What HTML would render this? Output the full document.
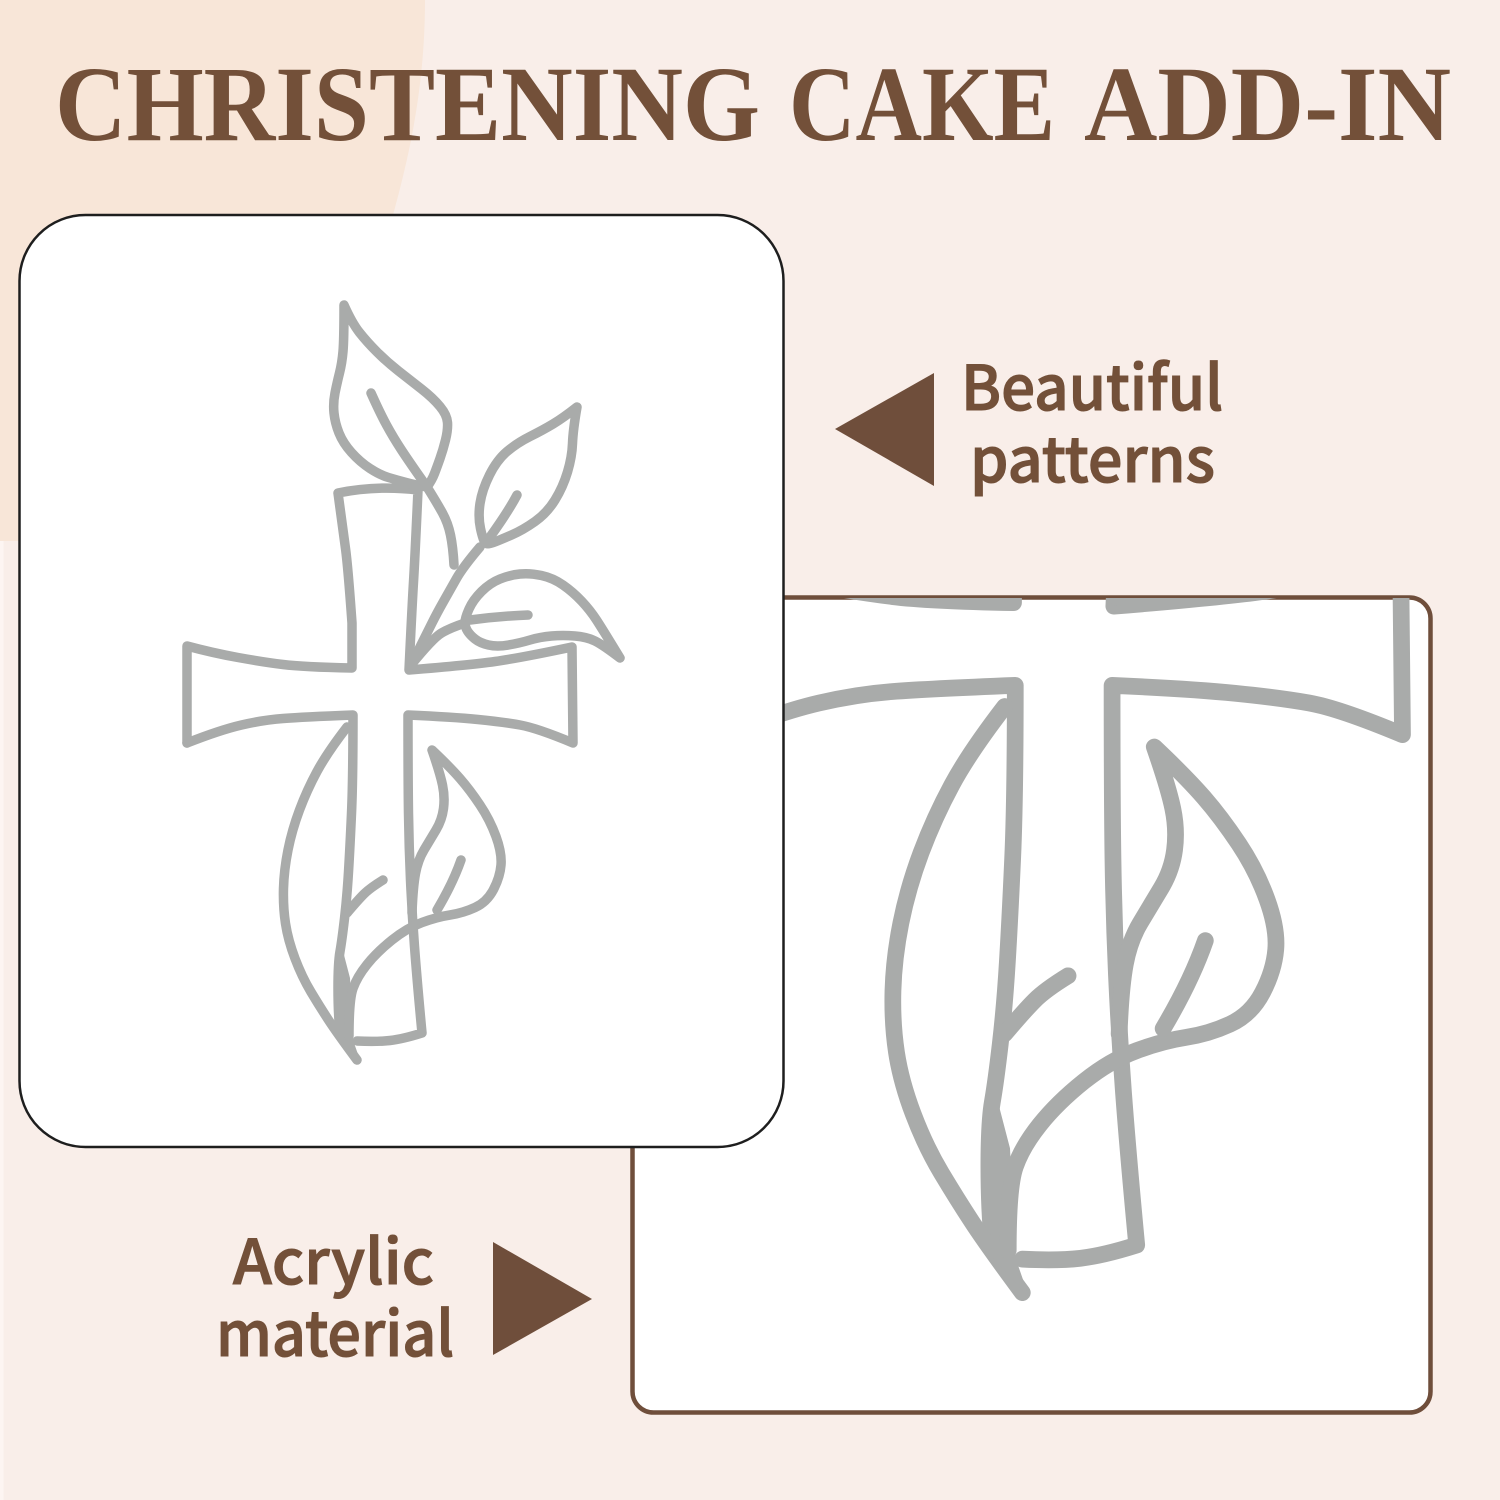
<!DOCTYPE html>
<html>
<head>
<meta charset="utf-8">
<style>
html,body{margin:0;padding:0;background:#f9eee9;}
svg{display:block;}
.lb{font-family:"Noto Sans CJK JP","Liberation Sans",sans-serif;font-weight:500;font-size:62px;fill:#735039;stroke:#735039;stroke-width:1.1px;}
.tt{font-family:"Liberation Serif",serif;font-weight:700;font-size:107px;fill:#735039;}
.c{fill:none;stroke:#a9abaa;stroke-width:9.5;stroke-linecap:round;stroke-linejoin:round;}
</style>
</head>
<body>
<svg width="1500" height="1500" viewBox="0 0 1500 1500" xmlns="http://www.w3.org/2000/svg">
<defs>
<g id="cross">
<path class="c" d="M187,743 L187,646 Q213,653 238,657.5 Q263,662 283,664.5 Q303,667 352,668 L352,623 Q348,567 345.5,548.5 Q343,530 338,493 Q377,485 418,490 Q415,557 413.5,582 Q412,607 409,670 Q470,665 495,661.5 Q520,658 572,647 L573,743 Q537,728 520,725 Q503,722 478,719.5 Q453,717 408,715 Q408,780 408.5,813.5 Q409,847 410.5,880 Q412,913 414.5,946.5 Q417,980 422,1033 Q403,1039 390,1040.5 Q377,1042 357,1041"/>
<path class="c" d="M187,743 Q220,730 241.5,725 Q263,720 283,718.5 Q303,717 353,715 Q353,780 351.5,813.5 Q350,847 348.5,872 Q347,897 344.5,918.5 Q342,940 340,951.5 Q338,963 338,988 Q338,1013 340,1033"/>
<path class="c" d="M347,727 Q327,753 317,771.5 Q307,790 299.5,810 Q292,830 288,850 Q284,870 283.5,888.5 Q283,907 285.5,923.5 Q288,940 295,958.5 Q302,977 311,992 Q320,1007 328.5,1020 Q337,1033 357,1060"/>
<polygon points="335,965 344,955 350,978 353,1040 361,1063 340,1040" fill="#a9abaa"/>
<path class="c" d="M347,913 Q358,900 364,894 Q370,888 383,880"/>
<path class="c" d="M349,1036 Q349,1000 353,988.5 Q357,977 367,964.5 Q377,952 392,940 Q407,928 422,922.5 Q437,917 450,915 Q463,913 475,907.5 Q487,902 493.5,889.5 Q500,877 501,865 Q502,853 496,836.5 Q490,820 480,805 Q470,790 460,778.5 Q450,767 432,750 Q440,773 442.5,785 Q445,797 443.5,808.5 Q442,820 436,830 Q430,840 424,850 Q418,860 415.5,873.5 Q413,887 412,913"/>
<path class="c" d="M461,860 Q453,883 437,910"/>
<path class="c" d="M344,305 Q352,323 359.5,332.5 Q367,342 377,352 Q387,362 398.5,371 Q410,380 421.5,389 Q433,398 440,406.5 Q447,415 447.5,422.5 Q448,430 445.5,440 Q443,450 440,458.5 Q437,467 434.5,473.5 Q432,480 427,487 Q415,485 406,482.5 Q397,480 388.5,477.5 Q380,475 370,468.5 Q360,462 351.5,452.5 Q343,443 339,433 Q335,423 334,413 Q333,403 335,393 Q337,383 339.5,373 Q342,363 343,351.5 Q344,340 344,305 Z"/>
<path class="c" d="M371,393 Q380,413 386.5,425 Q393,437 401.5,450 Q410,463 427,487"/>
<path class="c" d="M427,487 Q437,503 442.5,513 Q448,523 450.5,535 Q453,547 454,565"/>
<path class="c" d="M411,665 Q427,633 432,623 Q437,613 443.5,601.5 Q450,590 456.5,578.5 Q463,567 480,547"/>
<path class="c" d="M577,407 Q563,418 553,424 Q543,430 530,436.5 Q517,443 507,451.5 Q497,460 489.5,475 Q482,490 480,503.5 Q478,517 480.5,528.5 Q483,540 485,542.5 Q487,545 493.5,542.5 Q500,540 511.5,535 Q523,530 535,521.5 Q547,513 555,500 Q563,487 567.5,472 Q572,457 572.5,443.5 Q573,430 577,407 Z"/>
<path class="c" d="M517,495 Q508,512 490,537"/>
<path class="c" d="M620,658 Q603,630 596.5,620 Q590,610 581.5,601 Q573,592 563,585 Q553,578 541.5,575.5 Q530,573 520,574 Q510,575 500,579 Q490,583 481.5,591.5 Q473,600 469,609 Q465,618 465,622.5 Q465,627 467.5,631 Q470,635 475,639 Q480,643 488.5,645 Q497,647 508.5,645 Q520,643 530,640 Q540,637 551.5,636 Q563,635 575,636 Q587,637 595,641 Q603,645 620,658 Z"/>
<path class="c" d="M411,665 Q433,638 441.5,633 Q450,628 465,623"/>
<path class="c" d="M528,615 Q500,616 470,620"/>
</g>
<clipPath id="bigclip"><rect x="633" y="598" width="797" height="814" rx="20"/></clipPath>
</defs>

<rect width="1500" height="1500" fill="#f9eee9"/>
<rect x="0" y="541" width="3.5" height="959" fill="#fdf5f2"/>
<path d="M0,0 H425 C425,90 408,160 393,215 L393,400 L19,541 H0 Z" fill="#f8e6d8"/>

<text class="tt" x="55" y="140" textLength="705" lengthAdjust="spacingAndGlyphs">CHRISTENING</text>
<text class="tt" x="789" y="140" textLength="266" lengthAdjust="spacingAndGlyphs">CAKE</text>
<text class="tt" x="1084" y="140" textLength="367" lengthAdjust="spacingAndGlyphs">ADD-IN</text>

<rect x="632.5" y="597.5" width="798" height="815" rx="21" fill="#fff" stroke="#6f4e3b" stroke-width="4.5"/>
<g clip-path="url(#bigclip)">
<use href="#cross" transform="translate(394,-573) scale(1.76)"/>
</g>

<rect x="19.5" y="215" width="764" height="932" rx="66" fill="#fff" stroke="#1e1e1e" stroke-width="2.5"/>
<use href="#cross"/>

<polygon points="835,429 934,373 934,486" fill="#6f4e3b"/>
<polygon points="493,1242 592,1299 493,1355" fill="#6f4e3b"/>

<text class="lb" x="961" y="410" textLength="262" lengthAdjust="spacingAndGlyphs">Beautiful</text>
<text class="lb" x="970" y="482" textLength="245" lengthAdjust="spacingAndGlyphs">patterns</text>
<text class="lb" x="233" y="1284" textLength="201" lengthAdjust="spacingAndGlyphs">Acrylic</text>
<text class="lb" x="216" y="1356" textLength="238" lengthAdjust="spacingAndGlyphs">material</text>
</svg>
</body>
</html>
